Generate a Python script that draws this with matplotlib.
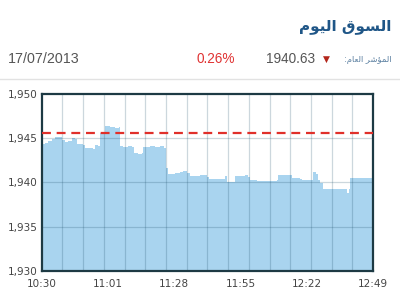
import matplotlib
matplotlib.use("Agg")
import matplotlib.pyplot as plt
from matplotlib.lines import Line2D

# ---- data ----
title_text = "ﻡﻮﻴﻟﺍ ﻕﻮﺴﻟﺍ"          # السوق اليوم (visual order, shaped forms)
index_label = ":ﻡﺎﻌﻟﺍ ﺮﺷﺆﻤﻟﺍ"       # المؤشر العام:
date_text = "17/07/2013"
change_text = "0.26%"
index_value = "1940.63"
prev_close = 1945.65

# x in grid units (16 intervals across session), values in index points
x_pos = [0.00, 0.16, 0.30, 0.50, 0.64, 0.88, 0.98, 1.13, 1.27, 1.46, 1.61, 1.71,
         1.85, 2.00, 2.09, 2.33, 2.48, 2.57, 2.72, 2.82, 2.96, 3.06, 3.30, 3.54,
         3.73, 3.78, 3.93, 4.17, 4.36, 4.46, 4.65, 4.84, 4.89, 5.23, 5.47, 5.72,
         5.91, 6.01, 6.10, 6.44, 6.68, 6.83, 7.02, 7.16, 7.65, 7.99, 8.08, 8.71,
         8.85, 8.95, 9.19, 9.34, 9.82, 9.97, 10.06, 10.40, 11.03, 11.37, 11.42,
         12.00, 12.09, 12.48, 12.57, 12.96, 13.11, 13.25, 13.35, 13.44, 13.59,
         14.17, 14.65, 14.75, 14.84, 14.89, 16.00]
values = [1944.4, 1944.5, 1944.7, 1944.9, 1945.1, 1945.2, 1944.8, 1944.6, 1944.7,
          1945.0, 1944.9, 1944.3, 1944.4, 1944.2, 1943.9, 1943.9, 1943.8, 1944.2,
          1944.1, 1945.6, 1945.7, 1946.4, 1946.3, 1946.2, 1946.3, 1944.1, 1944.0,
          1944.1, 1944.0, 1943.3, 1943.2, 1943.3, 1944.0, 1944.1, 1944.0, 1944.1,
          1943.9, 1941.6, 1941.0, 1941.1, 1941.2, 1941.3, 1941.1, 1940.7, 1940.8,
          1940.6, 1940.35, 1940.35, 1940.7, 1940.1, 1940.0, 1940.7, 1940.8, 1940.6,
          1940.3, 1940.2, 1940.2, 1940.25, 1940.8, 1940.8, 1940.5, 1940.4, 1940.25,
          1940.3, 1941.2, 1941.0, 1940.3, 1939.9, 1939.3, 1939.3, 1939.3, 1938.75,
          1939.3, 1940.45, 1940.45]

x_tick_labels = ["10:30", "11:01", "11:28", "11:55", "12:22", "12:49"]
y_ticks = [1930, 1935, 1940, 1945, 1950]
y_tick_labels = ["1,930", "1,935", "1,940", "1,945", "1,950"]

# ---- figure ----
fig = plt.figure(figsize=(4, 3), dpi=100)
fig.patch.set_facecolor("white")

ax = fig.add_axes([0.104, 0.098, 0.829, 0.588])
ax.set_xlim(0, 16)
ax.set_ylim(1930, 1950)

ax.fill_between(x_pos, values, 1930, step="post", color="#a9d4ef", lw=0, zorder=1)

# grid drawn on top with translucent dark colour
for gx in range(1, 16):
    ax.axvline(gx, color="#1a4a66", alpha=0.22, lw=0.9, zorder=2)
for gy in [1935, 1940, 1945]:
    ax.axhline(gy, color="#1a4a66", alpha=0.22, lw=0.9, zorder=2)

ax.axhline(prev_close, color="#e0302a", lw=1.6, ls=(0, (4, 2.6)), zorder=3)

for s in ax.spines.values():
    s.set_color("#1d3a44")
    s.set_linewidth(1.6)

n = len(x_tick_labels)
ax.set_xticks([16 * i / (n - 1) for i in range(n)])
ax.set_xticklabels(x_tick_labels)
ax.set_yticks(y_ticks)
ax.set_yticklabels(y_tick_labels)
ax.tick_params(axis="y", length=0, labelsize=7.5, labelcolor="#444444", pad=3)
ax.tick_params(axis="x", length=0, labelsize=7.5, labelcolor="#444444", pad=6)
for lab in ax.get_xticklabels() + ax.get_yticklabels():
    lab.set_fontfamily("DejaVu Sans")

# ---- header ----
fig.text(0.978, 0.91, title_text, ha="right", va="center", fontsize=11,
         fontweight="bold", color="#1f5687", family=["DejaVu Sans"])
fig.text(0.02, 0.803, date_text, ha="left", va="center", fontsize=10.3,
         color="#555555", family=["Liberation Sans"])
fig.text(0.588, 0.803, change_text, ha="right", va="center", fontsize=9.8,
         color="#e03333", family=["Liberation Sans"])
fig.text(0.788, 0.803, index_value, ha="right", va="center", fontsize=9.8,
         color="#555555", family=["Liberation Sans"])
fig.text(0.815, 0.803, "▼", ha="center", va="center", fontsize=6.5,
         color="#b3261b", family=["DejaVu Sans"])
fig.text(0.98, 0.80, index_label, ha="right", va="center", fontsize=6,
         color="#5a7fa0", family=["DejaVu Sans"])

fig.add_artist(Line2D([0.0, 1.0], [0.737, 0.737], transform=fig.transFigure,
                      color="#e2e2e2", lw=1.0))

fig.savefig("out.png", dpi=100)
